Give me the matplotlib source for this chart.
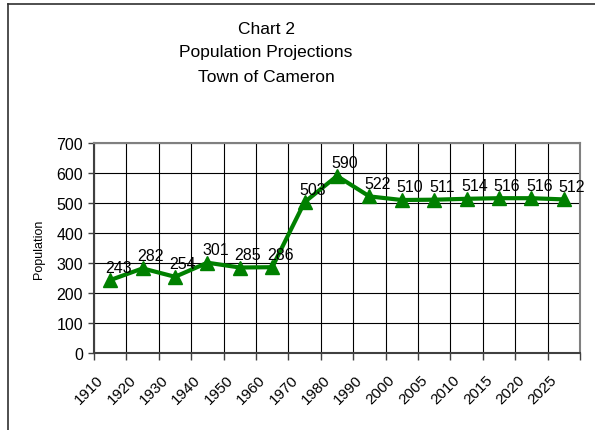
import matplotlib
matplotlib.use('Agg')
import matplotlib.pyplot as plt
from matplotlib.lines import Line2D
import numpy as np

matplotlib.rcParams['font.family'] = ['Liberation Sans', 'DejaVu Sans']

years = ['1910', '1920', '1930', '1940', '1950', '1960', '1970', '1980',
         '1990', '2000', '2005', '2010', '2015', '2020', '2025']
population = [243, 282, 254, 301, 285, 286, 503, 590, 522, 510, 511, 514, 516, 516, 512]
title_lines = ['Chart 2', 'Population Projections', 'Town of Cameron']

fig = plt.figure(figsize=(5.95, 4.31), dpi=100)
ax = fig.add_axes([94 / 595, 1 - 354 / 431, 486 / 595, 210 / 431])

x = np.arange(len(years))
ax.plot(x, population, color='#008000', linewidth=3, marker='^', markersize=10,
        markeredgecolor='#008000', zorder=3, clip_on=False)

for xi, v in zip(x, population):
    ax.annotate(str(v), (xi, v), xytext=(8, 13), textcoords='offset pixels',
                ha='center', va='center', fontsize=11.5, color='black', zorder=4)

ax.set_xlim(-0.5, len(years) - 0.5)
ax.set_ylim(0, 700)
ax.set_yticks(range(0, 701, 100))
ax.tick_params(axis='y', labelsize=11.5, length=4, width=1, color='#404040', pad=4)

# boundaries get the tick marks and grid, labels sit just left of category centres
ax.set_xticks(np.arange(len(years) + 1) - 0.5, minor=True)
ax.set_xticks(x - 0.43)
ax.set_xticklabels(years, rotation=45, ha='right', va='top', rotation_mode='anchor', fontsize=11)
ax.tick_params(axis='x', which='major', length=0, pad=14)
ax.tick_params(axis='x', which='minor', length=5, width=1, color='#404040')

ax.grid(axis='y', which='major', color='black', linewidth=0.8)
ax.grid(axis='x', which='minor', color='black', linewidth=0.8)
ax.set_axisbelow(True)

for side in ['top', 'right']:
    ax.spines[side].set_color('#808080')
    ax.spines[side].set_linewidth(1.5)
for side in ['left', 'bottom']:
    ax.spines[side].set_color('#404040')
    ax.spines[side].set_linewidth(1.5)

ax.set_ylabel('Population', fontsize=9, labelpad=8)

for i, line in enumerate(title_lines):
    fig.text(266 / 595, 1 - (29 + 24 * i) / 431, line, ha='center', va='center', fontsize=12.5)

# chart border (only top and left visible in the crop)
fig.add_artist(Line2D([8 / 595, 1], [1 - 4.5 / 431, 1 - 4.5 / 431], color='#303030', linewidth=1.2))
fig.add_artist(Line2D([8 / 595, 8 / 595], [0, 1 - 4.5 / 431], color='#303030', linewidth=1.2))

fig.savefig('out.png', dpi=100)
